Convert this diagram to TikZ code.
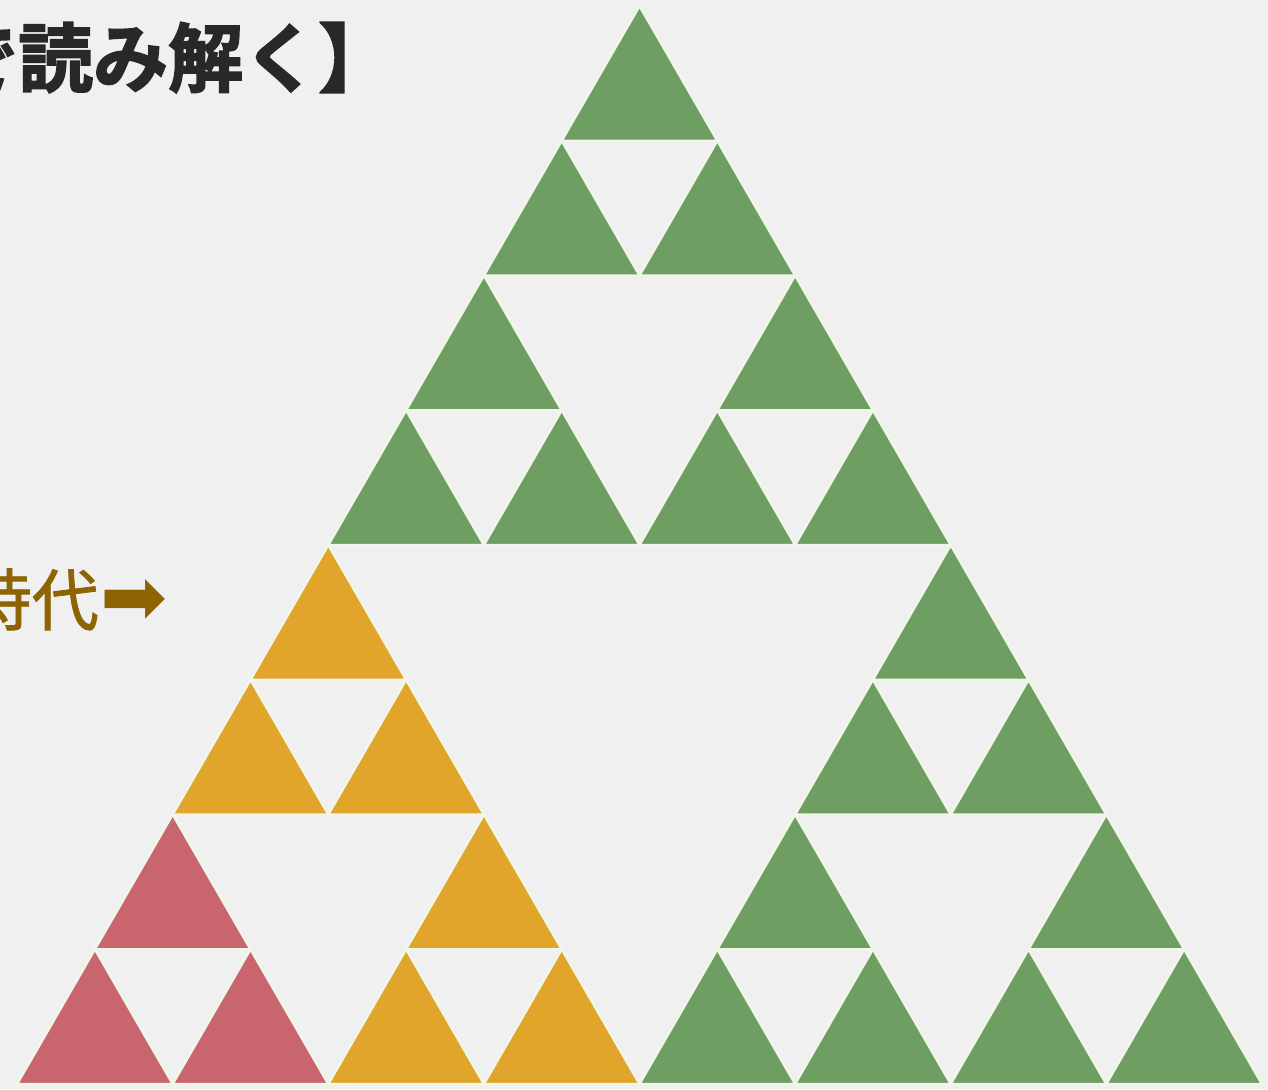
\documentclass[tikz,border=0pt]{standalone}
\usepackage{fontspec}
\newfontfamily\cjk{Noto Sans CJK JP}[FakeBold=1.2]
\newfontfamily\cjkb{Noto Sans CJK JP Bold}[FakeBold=2.2]
\newfontfamily\dejavu{DejaVu Sans}
\definecolor{bgc}{HTML}{F0F0F0}
\definecolor{greenc}{HTML}{6F9E63}
\definecolor{redc}{HTML}{C9656F}
\definecolor{orangec}{HTML}{E1A52B}
\definecolor{edgec}{HTML}{F0F6E8}
\definecolor{titlec}{HTML}{282828}
\definecolor{erac}{HTML}{8C6403}
\tikzset{
  tri/.style={line width=2.4pt, draw=edgec, line join=round},
}
\begin{document}
\begin{tikzpicture}[x=1pt,y=1pt]
\fill[bgc] (0,0) rectangle (1268,1089);
\useasboundingbox (0,0) rectangle (1268,1089);
\begin{scope}[shift={(17.1pt,5pt)}, x=77.8pt, y=134.75pt]
  % red (bottom-left corner block)
  \foreach \e/\f in {0/0,2/0,1/1}
    \filldraw[tri, fill=redc] (\e,\f) -- ++(2,0) -- ++(-1,1) -- cycle;
  % orange
  \foreach \c/\d in {4/0,2/2}
    \foreach \e/\f in {0/0,2/0,1/1}
      \filldraw[tri, fill=orangec] ({\c+\e},{\d+\f}) -- ++(2,0) -- ++(-1,1) -- cycle;
  % green
  \foreach \a/\b in {8/0,4/4}
    \foreach \c/\d in {0/0,4/0,2/2}
      \foreach \e/\f in {0/0,2/0,1/1}
        \filldraw[tri, fill=greenc] ({\a+\c+\e},{\b+\d+\f}) -- ++(2,0) -- ++(-1,1) -- cycle;
\end{scope}
\node[anchor=base west, inner sep=0, text=titlec, font=\cjkb\fontsize{75}{75}\selectfont] (title) at (-57,1003) {で読み解く】};
\node[anchor=base east, inner sep=0, text=erac, font=\cjk\fontsize{67}{67}\selectfont] (era) at (99,464) {時代};
\node[anchor=base west, inner sep=0, text=erac, font=\dejavu\fontsize{80}{80}\selectfont] (arrow) at ([xshift=1pt]era.base east) {➡};
\end{tikzpicture}
\end{document}
